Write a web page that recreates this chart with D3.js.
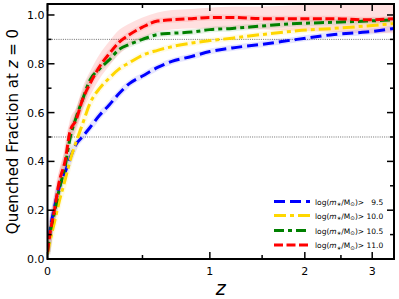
<!DOCTYPE html>
<html>
<head>
<meta charset="utf-8">
<script src="https://cdn.jsdelivr.net/npm/d3@7"></script>
<style>
  body { margin: 0; background: #fff; }
  text { font-family: "DejaVu Sans", sans-serif; }
</style>
</head>
<body>
<svg id="chart" width="399" height="299"></svg>
<script>
// redshift grid (shared by all series)
const zGrid = [0, 0.01, 0.03, 0.05, 0.08, 0.1, 0.13, 0.16, 0.2, 0.25, 0.3, 0.36, 0.42, 0.5, 0.6, 0.7, 0.85, 1.0, 1.2, 1.5, 1.9, 2.4, 2.9, 3.4];

// quenched fraction per stellar-mass cut
const fq95  = [0.02, 0.11, 0.21, 0.29, 0.36, 0.41, 0.47, 0.50, 0.54, 0.59, 0.63, 0.68, 0.72, 0.75, 0.785, 0.81, 0.83, 0.85, 0.865, 0.88, 0.90, 0.92, 0.93, 0.945];
const fq100 = [0.02, 0.07, 0.15, 0.23, 0.33, 0.40, 0.48, 0.55, 0.64, 0.70, 0.74, 0.78, 0.805, 0.835, 0.855, 0.87, 0.885, 0.895, 0.905, 0.92, 0.935, 0.945, 0.955, 0.965];
const fq105 = [0.03, 0.10, 0.19, 0.28, 0.39, 0.49, 0.58, 0.65, 0.735, 0.78, 0.815, 0.86, 0.88, 0.90, 0.92, 0.925, 0.93, 0.94, 0.945, 0.955, 0.965, 0.97, 0.975, 0.98];
const fq110 = [0.03, 0.10, 0.20, 0.31, 0.41, 0.52, 0.57, 0.65, 0.72, 0.79, 0.84, 0.89, 0.92, 0.95, 0.975, 0.98, 0.985, 0.99, 0.99, 0.985, 0.985, 0.985, 0.98, 0.985];

// scatter band around the highest-mass curve
const fq110Lo = [0.0, 0.06, 0.15, 0.26, 0.36, 0.47, 0.52, 0.60, 0.67, 0.74, 0.79, 0.84, 0.875, 0.905, 0.93, 0.94, 0.945, 0.945, 0.945, 0.94, 0.935, 0.93, 0.925, 0.925];
const fq110Hi = [0.06, 0.14, 0.25, 0.36, 0.46, 0.57, 0.62, 0.70, 0.77, 0.84, 0.89, 0.94, 0.965, 0.99, 1.01, 1.02, 1.025, 1.03, 1.035, 1.035, 1.04, 1.045, 1.045, 1.05];

const xTicks = [0, 1, 2, 3];
const xMinorTicks = [0.5, 1.5, 2.5];
const yTicks = [0, 0.2, 0.4, 0.6, 0.8, 1.0];
const yMinorTicks = [0.1, 0.3, 0.5, 0.7, 0.9];
const refLines = [0.9, 0.5];

const series = [
  { cut: " 9.5", values: fq95,  color: "#0000ff", dash: "11,5" },
  { cut: "10.0", values: fq100, color: "#ffd700", dash: "12,4,4,4" },
  { cut: "10.5", values: fq105, color: "#008000", dash: "10,4,4,4" },
  { cut: "11.0", values: fq110, color: "#ff0000", dash: "9,3.5" }
];

const svg = d3.select("#chart");
const pLeft = 47.5, pRight = 394, pTop = 4, pBottom = 259;

// x axis is linear in log(1+z)
const xs = d3.scaleLog().domain([1, 4.39]).range([pLeft, pRight]);
const x = z => xs(1 + z);
const y = d3.scaleLinear().domain([0, 1.045]).range([pBottom, pTop]);

svg.append("defs").append("clipPath").attr("id", "clip")
  .append("rect").attr("x", pLeft).attr("y", pTop)
  .attr("width", pRight - pLeft).attr("height", pBottom - pTop);

const plot = svg.append("g").attr("clip-path", "url(#clip)");

// reference lines
plot.selectAll(".ref")
  .data(refLines)
  .enter().append("line")
  .attr("x1", pLeft).attr("x2", pRight)
  .attr("y1", d => y(d)).attr("y2", d => y(d))
  .attr("stroke", "#333").attr("stroke-width", 0.7)
  .attr("stroke-dasharray", "1,1.2");

// red band
const band = d3.area()
  .x((d, i) => x(zGrid[i]))
  .y0((d, i) => y(fq110Lo[i]))
  .y1((d, i) => y(fq110Hi[i]))
  .curve(d3.curveMonotoneX);
plot.append("path").datum(zGrid)
  .attr("d", band)
  .attr("fill", "#ff0000").attr("fill-opacity", 0.12);

const line = d3.line()
  .x((d, i) => x(zGrid[i]))
  .y(d => y(d))
  .curve(d3.curveMonotoneX);

// faint halos around each curve
plot.selectAll(".halo")
  .data(series)
  .enter().append("path")
  .attr("d", d => line(d.values))
  .attr("fill", "none")
  .attr("stroke", d => d.color)
  .attr("stroke-opacity", 0.1)
  .attr("stroke-width", 6);

plot.selectAll(".curve")
  .data(series)
  .enter().append("path")
  .attr("class", "curve")
  .attr("d", d => line(d.values))
  .attr("fill", "none")
  .attr("stroke", d => d.color)
  .attr("stroke-width", 3)
  .attr("stroke-dasharray", d => d.dash);

// frame
svg.append("rect")
  .attr("x", pLeft).attr("y", pTop)
  .attr("width", pRight - pLeft).attr("height", pBottom - pTop)
  .attr("fill", "none").attr("stroke", "#000").attr("stroke-width", 2);

// ticks (inward, all four sides)
const ticks = svg.append("g").attr("stroke", "#000").attr("stroke-width", 1.5);
function xTick(v, len) {
  ticks.append("line").attr("x1", x(v)).attr("x2", x(v)).attr("y1", pBottom).attr("y2", pBottom - len);
  ticks.append("line").attr("x1", x(v)).attr("x2", x(v)).attr("y1", pTop).attr("y2", pTop + len);
}
function yTick(v, len) {
  ticks.append("line").attr("x1", pLeft).attr("x2", pLeft + len).attr("y1", y(v)).attr("y2", y(v));
  ticks.append("line").attr("x1", pRight).attr("x2", pRight - len).attr("y1", y(v)).attr("y2", y(v));
}
xTicks.forEach(v => xTick(v, 7));
xMinorTicks.forEach(v => xTick(v, 4));
yTicks.forEach(v => yTick(v, 7));
yMinorTicks.forEach(v => yTick(v, 4));

// tick labels
svg.selectAll(".xl")
  .data(xTicks)
  .enter().append("text")
  .attr("x", d => x(d)).attr("y", pBottom + 16)
  .attr("text-anchor", "middle").attr("font-size", 11)
  .text(d => d);

svg.selectAll(".yl")
  .data(yTicks)
  .enter().append("text")
  .attr("x", pLeft - 3).attr("y", d => y(d) + 4)
  .attr("text-anchor", "end").attr("font-size", 11)
  .text(d3.format(".1f"));

// axis titles
svg.append("text")
  .attr("x", (pLeft + pRight) / 2).attr("y", 295)
  .attr("text-anchor", "middle").attr("font-size", 19)
  .attr("font-style", "italic")
  .text("z");

const yt = svg.append("text")
  .attr("transform", `translate(18,${(pTop + pBottom) / 2}) rotate(-90)`)
  .attr("text-anchor", "middle").attr("font-size", 15);
yt.append("tspan").text("Quenched Fraction at ");
yt.append("tspan").attr("font-style", "italic").text("z");
yt.append("tspan").text(" = 0");

// legend
const legend = svg.append("g");
const rowY = [201.5, 215.5, 230.5, 245];
series.forEach((s, i) => {
  const g = legend.append("g").attr("transform", `translate(274,${rowY[i]})`);
  g.append("line")
    .attr("x1", 0).attr("x2", 36).attr("y1", 0).attr("y2", 0)
    .attr("stroke", s.color).attr("stroke-width", 3)
    .attr("stroke-dasharray", s.dash);
  const t = g.append("text")
    .attr("x", 41).attr("y", 3)
    .attr("font-size", 7.5)
    .style("white-space", "pre");
  t.append("tspan").text("log(");
  t.append("tspan").attr("font-style", "italic").text("m");
  t.append("tspan").attr("font-size", 5.5).attr("dy", 1.5).text("∗");
  t.append("tspan").attr("dy", -1.5).text("/M");
  t.append("tspan").attr("font-size", 5.5).attr("dy", 1.5).text("⊙");
  t.append("tspan").attr("dy", -1.5).text(")" + "> " + s.cut.replace(" ", "  "));
});
</script>
</body>
</html>
